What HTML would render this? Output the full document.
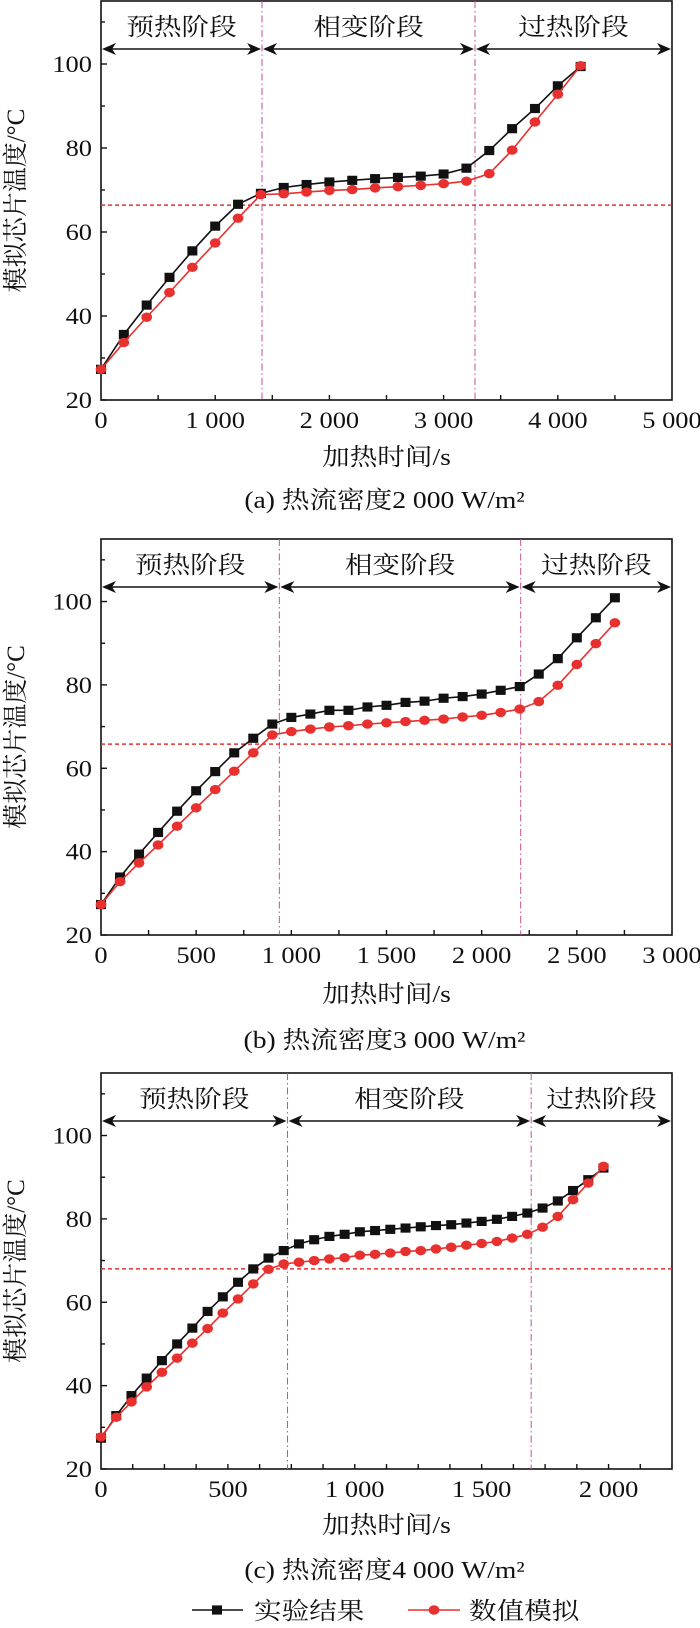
<!DOCTYPE html>
<html><head><meta charset="utf-8">
<style>
html,body{margin:0;padding:0;background:#fff;}
svg{display:block;}
text{font-family:"Liberation Serif","Noto Serif CJK SC","Noto Sans CJK SC",serif;fill:#111;}
</style></head>
<body>
<svg id="fig" width="700" height="1628" viewBox="0 0 700 1628"></svg>
<script>
// ---- Panel (a): 2000 W/m2 ----
const timeA = [0,200,400,600,800,1000,1200,1400,1600,1800,2000,2200,2400,2600,2800,3000,3200,3400,3600,3800,4000,4200];
const expA = [27.3,35.6,42.6,49.2,55.5,61.4,66.6,69.2,70.6,71.3,71.9,72.3,72.7,73.0,73.3,73.8,75.2,79.4,84.6,89.4,94.8,99.4];
const simA = [27.3,33.7,39.7,45.6,51.6,57.4,63.3,68.9,69.1,69.5,69.9,70.1,70.5,70.8,71.1,71.5,72.1,73.9,79.5,86.2,92.8,99.6];
const xTicksA = [0,1000,2000,3000,4000,5000];
const xTickLabelsA = ["0","1 000","2 000","3 000","4 000","5 000"];
const stagesA = [1410,3275];
const refTempA = 66.4;

// ---- Panel (b): 3000 W/m2 ----
const timeB = [0,100,200,300,400,500,600,700,800,900,1000,1100,1200,1300,1400,1500,1600,1700,1800,1900,2000,2100,2200,2300,2400,2500,2600,2700];
const expB = [27.3,33.9,39.4,44.6,49.7,54.6,59.2,63.7,67.2,70.6,72.2,73.0,73.9,73.9,74.7,75.1,75.8,76.1,76.8,77.2,77.8,78.7,79.6,82.6,86.3,91.3,96.1,100.9];
const simB = [27.3,32.8,37.3,41.6,46.1,50.5,54.9,59.3,63.7,68.0,68.8,69.4,69.9,70.2,70.6,70.9,71.2,71.5,71.8,72.3,72.7,73.4,74.2,76.0,79.9,84.9,89.9,94.9];
const xTicksB = [0,500,1000,1500,2000,2500,3000];
const xTickLabelsB = ["0","500","1 000","1 500","2 000","2 500","3 000"];
const stagesB = [937,2205];
const refTempB = 65.8;

// ---- Panel (c): 4000 W/m2 ----
const timeC = [0,60,120,180,240,300,360,420,480,540,600,660,720,780,840,900,960,1020,1080,1140,1200,1260,1320,1380,1440,1500,1560,1620,1680,1740,1800,1860,1920,1980];
const expC = [27.4,32.8,37.6,41.8,46.0,50.0,53.8,57.8,61.3,64.8,68.0,70.6,72.4,74.0,75.0,75.8,76.3,76.9,77.2,77.5,77.8,78.1,78.4,78.6,79.0,79.4,79.9,80.6,81.4,82.6,84.3,86.8,89.4,92.2];
const simC = [27.7,32.4,36.1,39.7,43.2,46.6,50.2,53.7,57.4,60.8,64.4,67.9,69.2,69.6,70.0,70.4,70.7,71.3,71.5,71.8,72.2,72.4,72.8,73.2,73.7,74.1,74.6,75.4,76.3,78.0,80.6,84.6,88.6,92.6];
const xTicksC = [0,500,1000,1500,2000];
const xTickLabelsC = ["0","500","1 000","1 500","2 000"];
const stagesC = [735,1695];
const refTempC = 68;

const yTicks = [20,40,60,80,100];
const yTickLabels = ["20","40","60","80","100"];
const stageNames = ["预热阶段","相变阶段","过热阶段"];

const NS = "http://www.w3.org/2000/svg";
const svg = document.getElementById("fig");
function mk(tag, attrs, parent){
  const e = document.createElementNS(NS, tag);
  for (const k in attrs) e.setAttribute(k, attrs[k]);
  (parent||svg).appendChild(e);
  return e;
}
function txt(parent, x, y, s, size, anchor, sx){
  const t = mk("text", {x:0, y:0, "font-size":size, "text-anchor":anchor||"middle",
    transform:"translate("+x+","+y+") scale("+(sx||1.15)+",1)"}, parent);
  t.textContent = s;
  return t;
}

const L = 101, R = 672;
function panel(id, top, bottom, xMax, xMinorStep, times, exp, sim, xt, xtl, stages, refT, xlabY, capY, caption){
  const g = mk("g", {}, svg);
  
  
  const yMin = 20, yMax = 115;
  const X = v => L + (v / xMax) * (R - L);
  const Y = v => bottom - (v - yMin) / (yMax - yMin) * (bottom - top);

  // frame
  const frame = mk("rect", {x:L, y:top, width:R-L, height:bottom-top, fill:"none", stroke:"#111", "stroke-width":1.6}, g);
  
  

  // y ticks
  for (let v = 20; v <= 110; v += 10){
    const len = (v % 20 === 0) ? 6 : 4;
    const tk = mk("line", {x1:L, x2:L+len, y1:Y(v), y2:Y(v), stroke:"#111", "stroke-width":1.4}, g);
    
    
  }
  yTicks.forEach((v,i) => {
    const t = txt(g, L-9, Y(v)+8, yTickLabels[i], 23, "end");
    
    
  });
  // x ticks
  for (let v = xMinorStep; v < xMax; v += xMinorStep){
    const tk = mk("line", {x1:X(v), x2:X(v), y1:bottom, y2:bottom-5, stroke:"#111", "stroke-width":1.4}, g);
    
    
  }
  xt.forEach((v,i) => {
    const t = txt(g, X(v), bottom+28, xtl[i], 23, "middle");
    
    
  });

  // y axis title
  const yt = mk("text", {x:0, y:0, "font-size":25, "text-anchor":"middle",
    transform:"translate("+24+","+((top+bottom)/2)+") rotate(-90)"}, g);
  yt.textContent = "模拟芯片温度/°C";
  
  

  // x axis title & caption
  const xt1 = txt(g, (L+R)/2, xlabY+8, "加热时间/s", 24, "middle");
  
  
  const cp = txt(g, (L+R)/2 - 2, capY+8, caption, 24, "middle");
  
  

  // stage divider lines
  const bounds = [L, X(stages[0]), X(stages[1]), R];
  stages.forEach(s => {
    const dl = mk("line", {x1:X(s), x2:X(s), y1:top, y2:bottom, stroke:"#c0509a", "stroke-width":1, "stroke-dasharray":"7,3,1.5,3"}, g);
    
    
  });
  // arrows and stage labels
  const ay = top + 48;
  for (let i = 0; i < 3; i++){
    const a = bounds[i] + 1, b = bounds[i+1] - 1;
    const ln = mk("line", {x1:a+4, x2:b-4, y1:ay, y2:ay, stroke:"#111", "stroke-width":1.5}, g);
    
    
    const h1 = mk("path", {d:"M"+a+","+ay+" l14,-6 l-4,6 l4,6 z", fill:"#111"}, g);
    
    
    const h2 = mk("path", {d:"M"+b+","+ay+" l-14,-6 l4,6 l-4,6 z", fill:"#111"}, g);
    
    
    const sl = txt(g, (bounds[i]+bounds[i+1])/2, top+34, stageNames[i], 24, "middle");
    
    
  }

  // reference dashed line
  const rl = mk("line", {x1:L, x2:R, y1:Y(refT), y2:Y(refT), stroke:"#e8312f", "stroke-width":1.5, "stroke-dasharray":"4,3"}, g);
  
  

  // series
  const pe = times.map((t,i) => X(t)+","+Y(exp[i])).join(" ");
  const ps = times.map((t,i) => X(t)+","+Y(sim[i])).join(" ");
  const le = mk("polyline", {points:pe, fill:"none", stroke:"#111", "stroke-width":1.6}, g);
  
  
  times.forEach((t,i) => {
    const m = mk("rect", {x:X(t)-5, y:Y(exp[i])-4.6, width:10, height:9.2, fill:"#111"}, g);
    
    
  });
  const ls = mk("polyline", {points:ps, fill:"none", stroke:"#e8312f", "stroke-width":1.6}, g);
  
  
  times.forEach((t,i) => {
    const m = mk("ellipse", {cx:X(t), cy:Y(sim[i]), rx:5.4, ry:4.7, fill:"#e8312f"}, g);
    
    
  });
}

panel("a", 1, 400, 5000, 500, timeA, expA, simA, xTicksA, xTickLabelsA, stagesA, refTempA, 457, 500, "(a) 热流密度2 000 W/m²");
panel("b", 539, 935, 3000, 250, timeB, expB, simB, xTicksB, xTickLabelsB, stagesB, refTempB, 994, 1040, "(b) 热流密度3 000 W/m²");
panel("c", 1073, 1469, 2250, 125, timeC, expC, simC, xTicksC, xTickLabelsC, stagesC, refTempC, 1525, 1570, "(c) 热流密度4 000 W/m²");

// legend
const lg = mk("g", {}, svg);


const l1 = mk("line", {x1:192, x2:243, y1:1610, y2:1610, stroke:"#111", "stroke-width":1.6}, lg);


const r1 = mk("rect", {x:212, y:1605.4, width:10, height:9.2, fill:"#111"}, lg);


const t1 = txt(lg, 254, 1619, "实验结果", 24, "start");


const l2 = mk("line", {x1:408, x2:460, y1:1610, y2:1610, stroke:"#e8312f", "stroke-width":1.6}, lg);


const c2 = mk("ellipse", {cx:434, cy:1610, rx:5.4, ry:4.7, fill:"#e8312f"}, lg);


const t2 = txt(lg, 469, 1619, "数值模拟", 24, "start");


</script>
</body></html>
